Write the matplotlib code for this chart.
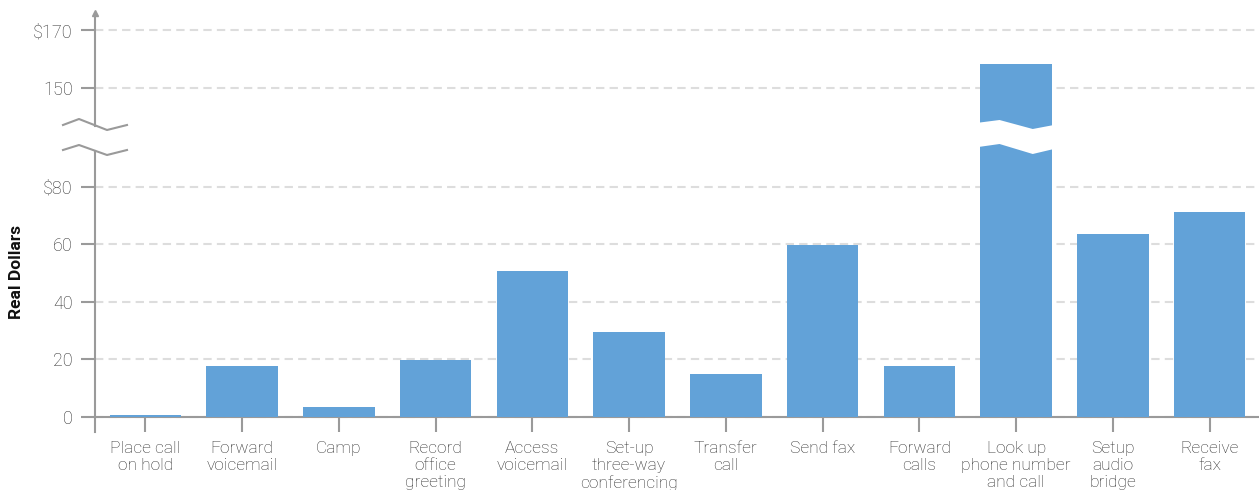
import matplotlib
matplotlib.use("Agg")
import matplotlib.pyplot as plt
from matplotlib.patches import Polygon
from matplotlib.lines import Line2D
from matplotlib.transforms import blended_transform_factory

plt.rcParams['font.family'] = ['Roboto', 'DejaVu Sans']

# data
tasks = ["Place call\non hold", "Forward\nvoicemail", "Camp", "Record\noffice\ngreeting",
         "Access\nvoicemail", "Set-up\nthree-way\nconferencing", "Transfer\ncall", "Send fax",
         "Forward\ncalls", "Look up\nphone number\nand call", "Setup\naudio\nbridge", "Receive\nfax"]
cost = [0.6, 17.7, 3.5, 19.8, 50.8, 29.6, 15.0, 59.8, 17.7, 158.3, 63.7, 71.3]
low_ticks = [0, 20, 40, 60, 80]
low_labels = ["0", "20", "40", "60", "$80"]
high_ticks = [150, 170]
high_labels = ["150", "$170"]

W, H = 1259, 490
bar_color = "#62a2d8"
axis_gray = "#9a9a9a"
text_gray = "#2e2e2e"


def fx(x):
    return x / W


def fy(y):
    return 1 - y / H


fig = plt.figure(figsize=(W / 100, H / 100), dpi=100)
ax_lo = fig.add_axes([fx(95), fy(432), fx(W - 95), (432 - 143) / H])
ax_hi = fig.add_axes([fx(95), fy(130), fx(W - 95), (130 - 13) / H])

x = list(range(len(tasks)))
for ax in (ax_lo, ax_hi):
    ax.bar(x, cost, width=0.74, color=bar_color, zorder=3)
    ax.set_xlim(-0.52, 11.51)
    ax.spines['top'].set_visible(False)
    ax.spines['right'].set_visible(False)
    ax.spines['left'].set_color(axis_gray)
    ax.spines['left'].set_linewidth(1.5)
    ax.tick_params(axis='y', direction='out', length=10, width=1.5, color=axis_gray,
                   labelcolor=text_gray, labelsize=13, pad=6)
    ax.yaxis.grid(True, color="#dddddd", linestyle=(0, (4, 2.5)), linewidth=1.5, zorder=0)
    ax.set_axisbelow(True)

# lower panel
ax_lo.set_ylim(-5.22, (417 - 143) / 2.875)
ax_lo.set_yticks(low_ticks)
ax_lo.set_yticklabels(low_labels, fontweight='light')
ax_lo.spines['bottom'].set_position(('data', 0))
ax_lo.spines['bottom'].set_color(axis_gray)
ax_lo.spines['bottom'].set_linewidth(1.5)
ax_lo.spines['left'].set_bounds(-5.22, (417 - 151) / 2.875)
ax_lo.set_xticks(x)
ax_lo.set_xticklabels(tasks, linespacing=1.2, fontweight='light')
ax_lo.tick_params(axis='x', direction='out', length=11, width=1.5, color=axis_gray,
                  labelcolor=text_gray, labelsize=12.5, pad=6)

# upper panel
ax_hi.set_ylim(150 - 42 / 2.9, 150 + 75 / 2.9)
ax_hi.set_yticks(high_ticks)
ax_hi.set_yticklabels(high_labels, fontweight='light')
ax_hi.spines['bottom'].set_visible(False)
ax_hi.spines['left'].set_bounds(150 - 38 / 2.9, 150 + 75 / 2.9)
ax_hi.set_xticks([])
ax_hi.plot(0, 1, marker='^', markersize=4, color=axis_gray, transform=ax_hi.transAxes,
           clip_on=False, zorder=5)

# break marks on the axis
for ys in ([125, 119, 130, 125], [150, 145, 155, 150]):
    fig.add_artist(Line2D([fx(63), fx(79), fx(107), fx(127)], [fy(v) for v in ys],
                          color=axis_gray, linewidth=1.5, zorder=6))

# break cut through the tall bar
tr = blended_transform_factory(ax_hi.transData, fig.transFigure)
big = cost.index(max(cost))
x0 = big - 0.37 - 0.02
x1 = big + 0.37 + 0.02
fr = [0, 0.28, 0.72, 1]
xs = [x0 + f * (x1 - x0) for f in fr]
top = [122.7, 120, 129, 125]
bot = [147, 144, 154, 149]
pts = [(xx, fy(yy)) for xx, yy in zip(xs, top)] + \
      [(xx, fy(yy)) for xx, yy in zip(xs[::-1], bot[::-1])]
fig.add_artist(Polygon(pts, closed=True, facecolor="white", edgecolor="none",
                       transform=tr, zorder=6))

fig.text(fx(17), fy(272), "Real Dollars", rotation=90, ha='center', va='center',
         fontsize=12.5, fontweight='bold', color="#111111")

fig.savefig("out.png", dpi=100)
